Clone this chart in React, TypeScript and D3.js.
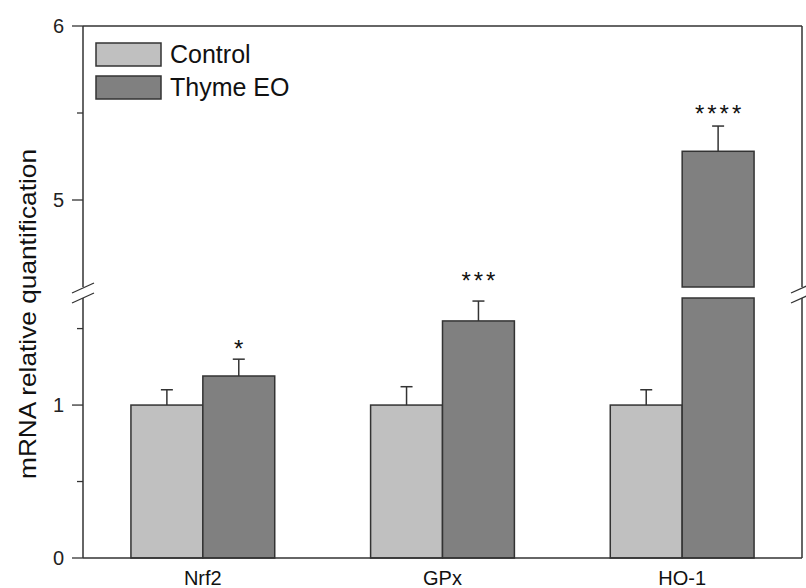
import React from 'react';
import * as d3 from 'd3';

const categories = ['Nrf2', 'GPx', 'HO-1'];
const seriesNames = ['Control', 'Thyme EO'];
const controlValues = [1.0, 1.0, 1.0];
const controlErrors = [0.1, 0.12, 0.1];
const thymeValues = [1.19, 1.55, 5.28];
const thymeErrors = [0.11, 0.13, 0.145];
const significance = ['*', '***', '****'];
const significanceLevels = [1.405, 1.85, 5.523];
const majorTicksLow = [0, 1];
const minorTicksLow = [0.5, 1.5];
const majorTicksHigh = [5, 6];
const minorTicksHigh = [5.5];
const lowerDomain = [0, 1.7];
const upperDomain = [4.5, 6];

const colors = ['#c0c0c0', '#808080'];
const stroke = '#333333';
const W = 806;
const H = 588;
const left = 83;
const right = 802;
const top = 26;
const bottom = 558;
const font = 'Liberation Sans, Arial, sans-serif';

export default function App() {
  const x = d3.scaleBand<string>().domain(categories).range([left, right]).paddingInner(0.4).paddingOuter(0.2);
  const xs = d3.scaleBand<string>().domain(seriesNames).range([0, x.bandwidth()]);
  const yLow = d3.scaleLinear().domain(lowerDomain).range([bottom, 298]);
  const yHigh = d3.scaleLinear().domain(upperDomain).range([287, top]);
  const y = (v: number) => (v < upperDomain[0] ? yLow(v) : yHigh(v));
  const lowTop = yLow(lowerDomain[1]);
  const highBottom = yHigh(upperDomain[0]);

  const series = [
    { name: seriesNames[0], values: controlValues, errors: controlErrors, color: colors[0] },
    { name: seriesNames[1], values: thymeValues, errors: thymeErrors, color: colors[1] },
  ];

  const bars: React.ReactNode[] = [];
  series.forEach((s, si) => {
    categories.forEach((c, ci) => {
      const v = s.values[ci];
      const bx = (x(c) as number) + (xs(s.name) as number);
      const bw = xs.bandwidth();
      const cx = bx + bw / 2;
      if (v <= lowerDomain[1]) {
        bars.push(
          <rect key={`b${si}${ci}`} x={bx} y={yLow(v)} width={bw} height={bottom - yLow(v)} fill={s.color} stroke={stroke} strokeWidth={1.5} />
        );
      } else {
        bars.push(
          <rect key={`b${si}${ci}l`} x={bx} y={lowTop} width={bw} height={bottom - lowTop} fill={s.color} stroke={stroke} strokeWidth={1.5} />,
          <rect key={`b${si}${ci}h`} x={bx} y={yHigh(v)} width={bw} height={highBottom - yHigh(v)} fill={s.color} stroke={stroke} strokeWidth={1.5} />
        );
      }
      const e = v + s.errors[ci];
      bars.push(
        <g key={`e${si}${ci}`} stroke={stroke} strokeWidth={1.5}>
          <line x1={cx} x2={cx} y1={y(v)} y2={y(e)} />
          <line x1={cx - 6} x2={cx + 6} y1={y(e)} y2={y(e)} />
        </g>
      );
    });
  });

  const breakMarks = (bx: number) => (
    <g stroke={stroke} strokeWidth={1.3}>
      <line x1={bx - 11} y1={highBottom + 6} x2={bx + 11} y2={highBottom - 4} />
      <line x1={bx - 11} y1={lowTop + 5} x2={bx + 11} y2={lowTop - 5} />
    </g>
  );

  return (
    <svg width={W} height={H} style={{ position: 'absolute', left: 0, top: 0, background: '#fff' }}>
      <rect x={0} y={0} width={W} height={H} fill="#fff" />
      {bars}
      <g stroke={stroke} strokeWidth={1.5} fill="none">
        <line x1={left} x2={left} y1={top} y2={highBottom} />
        <line x1={left} x2={left} y1={lowTop} y2={bottom} />
        <line x1={right} x2={right} y1={top} y2={highBottom} />
        <line x1={right} x2={right} y1={lowTop} y2={bottom} />
        <line x1={left} x2={right} y1={top} y2={top} />
        <line x1={left} x2={right} y1={bottom} y2={bottom} />
      </g>
      {breakMarks(left)}
      {breakMarks(right)}
      <g stroke={stroke} strokeWidth={1.3}>
        {majorTicksLow.map((t) => <line key={`ml${t}`} x1={left - 11} x2={left} y1={yLow(t)} y2={yLow(t)} />)}
        {minorTicksLow.map((t) => <line key={`nl${t}`} x1={left - 6} x2={left} y1={yLow(t)} y2={yLow(t)} />)}
        {majorTicksHigh.map((t) => <line key={`mh${t}`} x1={left - 11} x2={left} y1={yHigh(t)} y2={yHigh(t)} />)}
        {minorTicksHigh.map((t) => <line key={`nh${t}`} x1={left - 6} x2={left} y1={yHigh(t)} y2={yHigh(t)} />)}
      </g>
      <g fontFamily={font} fontSize={20} fill="#222" textAnchor="end">
        {majorTicksLow.map((t) => <text key={`tl${t}`} x={left - 19} y={yLow(t)} dy="0.36em">{d3.format('d')(t)}</text>)}
        {majorTicksHigh.map((t) => <text key={`th${t}`} x={left - 19} y={yHigh(t)} dy="0.36em">{d3.format('d')(t)}</text>)}
      </g>
      <g fontFamily={font} fontSize={20} fill="#111" textAnchor="middle">
        {categories.map((c) => <text key={c} x={(x(c) as number) + x.bandwidth() / 2} y={585}>{c}</text>)}
      </g>
      <text transform={`translate(36, 314) rotate(-90)`} textAnchor="middle" fontFamily={font} fontSize={24} fill="#111" textLength={330} lengthAdjust="spacingAndGlyphs">mRNA relative quantification</text>
      <g fontFamily={font} fontSize={24} fill="#111" textAnchor="middle">
        {categories.map((c, ci) => (
          <text key={`s${c}`} x={(x(c) as number) + (xs(seriesNames[1]) as number) + xs.bandwidth() / 2 + 1.5} y={y(significanceLevels[ci]) + 13.5} letterSpacing={3}>{significance[ci]}</text>
        ))}
      </g>
      <g fontFamily={font} fontSize={25} fill="#111">
        {seriesNames.map((n, i) => (
          <g key={n} transform={`translate(96, ${43 + i * 33})`}>
            <rect x={0} y={0} width={65} height={23} fill={colors[i]} stroke={stroke} strokeWidth={1.5} />
            <text x={74} y={20}>{n}</text>
          </g>
        ))}
      </g>
    </svg>
  );
}
